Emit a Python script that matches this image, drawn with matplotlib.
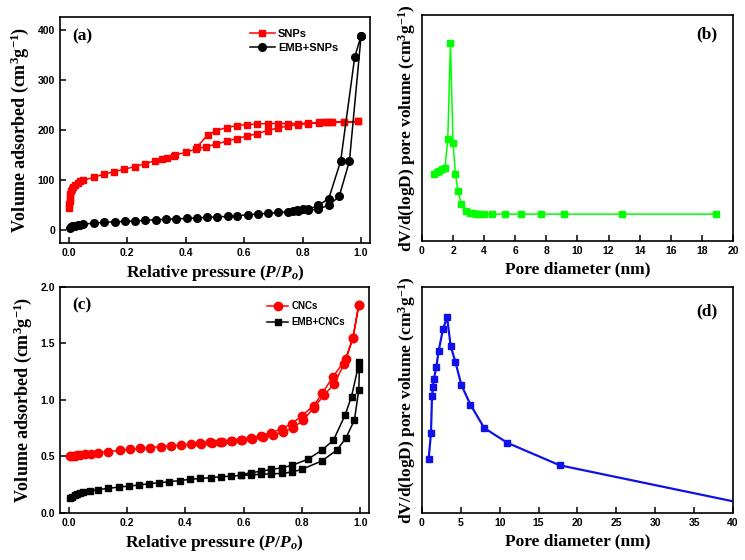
import numpy as np
import matplotlib
matplotlib.use("Agg")
import matplotlib.pyplot as plt

plt.rcParams['mathtext.fontset'] = 'custom'
plt.rcParams['mathtext.rm'] = 'Liberation Serif:bold'
plt.rcParams['mathtext.bf'] = 'Liberation Serif:bold'
plt.rcParams['mathtext.it'] = 'Liberation Serif:bold:italic'

# ---- (a) N2 isotherms, SNPs / EMB+SNPs
snp_ads_x = [0.001, 0.002, 0.003, 0.004, 0.006, 0.008, 0.01, 0.015, 0.02, 0.03, 0.04, 0.05,
             0.085, 0.12, 0.155, 0.19, 0.225, 0.26, 0.295, 0.32, 0.335, 0.36, 0.365, 0.40,
             0.435, 0.47, 0.505, 0.54, 0.575, 0.61, 0.645, 0.68, 0.715, 0.75, 0.785, 0.82,
             0.855, 0.87, 0.885, 0.9, 0.94, 0.99]
snp_ads_y = [45, 52, 58, 65, 72, 78, 82, 87, 91, 95, 98, 100,
             106, 112, 117, 122, 127, 133, 139, 143, 145, 148, 150, 156,
             162, 167, 172, 178, 183, 188, 193, 199, 204, 208, 211, 213,
             214, 215, 215, 215, 216, 217]
snp_des_x = [0.99, 0.94, 0.9, 0.885, 0.855, 0.82, 0.785, 0.75, 0.715, 0.68, 0.645, 0.61,
             0.575, 0.54, 0.505, 0.475, 0.44]
snp_des_y = [217, 216, 215, 215, 215, 214, 213, 213, 213, 213, 212, 211,
             209, 205, 199, 190, 167]

emb_snp_ads_x = [0.003, 0.008, 0.012, 0.02, 0.03, 0.04, 0.05, 0.085, 0.12, 0.157, 0.193,
                 0.228, 0.262, 0.297, 0.333, 0.367, 0.403, 0.438, 0.473, 0.507, 0.543,
                 0.576, 0.612, 0.648, 0.682, 0.717, 0.751, 0.768, 0.785, 0.82, 0.853,
                 0.889, 0.925, 0.96, 1.0]
emb_snp_ads_y = [5, 7, 8, 9, 10, 11, 12, 15, 16, 17.5, 18, 19, 20, 21.5, 22, 23, 24, 25,
                 26, 27, 28, 29.5, 31, 33, 34, 36, 37, 38, 38, 40, 43, 50, 68, 138, 388]
emb_snp_des_x = [1.0, 0.978, 0.93, 0.889, 0.853, 0.82, 0.8, 0.78]
emb_snp_des_y = [388, 345, 138, 63, 50, 42, 42, 40]

# ---- (b) pore size distribution, SNPs
b_d = [0.79, 0.94, 1.11, 1.28, 1.48, 1.66, 1.83, 2.0, 2.15, 2.32, 2.53, 2.81, 3.07,
       3.29, 3.5, 3.72, 3.97, 4.53, 5.33, 6.4, 7.65, 9.13, 12.85, 18.93]
b_v = [0.295, 0.303, 0.31, 0.318, 0.323, 0.449, 0.874, 0.431, 0.295, 0.22, 0.161,
       0.131, 0.124, 0.121, 0.12, 0.118, 0.118, 0.118, 0.118, 0.118, 0.118, 0.118,
       0.118, 0.118]

# ---- (c) N2 isotherms, CNCs / EMB+CNCs
cnc_ads_x = [0.005, 0.012, 0.02, 0.03, 0.04, 0.055, 0.075, 0.1, 0.135, 0.175, 0.21, 0.245,
             0.28, 0.315, 0.35, 0.385, 0.42, 0.455, 0.49, 0.525, 0.56, 0.595, 0.63, 0.665,
             0.7, 0.735, 0.77, 0.805, 0.84, 0.875, 0.91, 0.945, 0.975, 0.995]
cnc_ads_y = [0.500, 0.503, 0.506, 0.509, 0.513, 0.518, 0.525, 0.533, 0.543, 0.553, 0.562,
             0.571, 0.579, 0.587, 0.594, 0.601, 0.608, 0.614, 0.620, 0.627, 0.635, 0.645,
             0.657, 0.672, 0.69, 0.715, 0.755, 0.82, 0.93, 1.04, 1.14, 1.32, 1.55, 1.84]
cnc_des_x = [0.995, 0.975, 0.95, 0.905, 0.87, 0.84, 0.80, 0.765, 0.73, 0.695, 0.66, 0.625,
             0.59, 0.555, 0.52, 0.485, 0.45]
cnc_des_y = [1.84, 1.55, 1.36, 1.2, 1.06, 0.95, 0.86, 0.79, 0.745, 0.71, 0.685, 0.665,
             0.65, 0.64, 0.632, 0.625, 0.618]

emb_cnc_ads_x = [0.005, 0.012, 0.02, 0.03, 0.04, 0.05, 0.072, 0.1, 0.135, 0.172, 0.206,
                 0.24, 0.274, 0.308, 0.345, 0.381, 0.415, 0.449, 0.487, 0.521, 0.555,
                 0.59, 0.625, 0.66, 0.695, 0.73, 0.766, 0.80, 0.868, 0.919, 0.95, 0.98,
                 0.995, 0.997]
emb_cnc_ads_y = [0.13, 0.145, 0.158, 0.168, 0.176, 0.182, 0.193, 0.207, 0.217, 0.229,
                 0.238, 0.247, 0.258, 0.267, 0.276, 0.287, 0.297, 0.305, 0.312, 0.32,
                 0.326, 0.332, 0.337, 0.342, 0.346, 0.35, 0.362, 0.386, 0.46, 0.555,
                 0.659, 0.822, 1.09, 1.27]
emb_cnc_des_x = [0.997, 0.97, 0.948, 0.908, 0.868, 0.82, 0.766, 0.731, 0.695, 0.66,
                 0.625, 0.59]
emb_cnc_des_y = [1.34, 1.03, 0.866, 0.644, 0.555, 0.475, 0.421, 0.4, 0.385, 0.37,
                 0.356, 0.338]

# ---- (d) pore size distribution, CNCs
d_d = [0.86, 1.16, 1.29, 1.42, 1.55, 1.85, 2.15, 2.71, 3.23, 3.7, 4.3, 5.08, 6.24,
       8.0, 11.0, 17.72, 44.0]
d_v = [0.239, 0.354, 0.516, 0.556, 0.594, 0.646, 0.718, 0.814, 0.866, 0.737, 0.668,
       0.565, 0.479, 0.376, 0.31, 0.211, 0.023]

serif = 'Liberation Serif'
sans = 'Liberation Sans'
xlab_fs = 12.5
ylab_fs = 13
tick_fs = 7.5

fig = plt.figure(figsize=(7.45, 5.6), dpi=100)
ax_a = fig.add_axes([0.0805, 0.566, 0.416, 0.4036])
ax_b = fig.add_axes([0.5664, 0.570, 0.4174, 0.4036])
ax_c = fig.add_axes([0.0805, 0.084, 0.4148, 0.4036])
ax_d = fig.add_axes([0.5664, 0.084, 0.4174, 0.4036])


def style(ax):
    for sp in ax.spines.values():
        sp.set_linewidth(1.2)
    ax.tick_params(direction='in', length=4, width=1.1, labelsize=tick_fs)
    for lab in ax.get_xticklabels() + ax.get_yticklabels():
        lab.set_fontfamily(sans)
        lab.set_fontweight('bold')


# (a)
ax_a.plot(snp_ads_x + snp_des_x, snp_ads_y + snp_des_y, '-s', color='#ff0000',
          ms=5, lw=1.1, label='SNPs')
ax_a.plot(emb_snp_ads_x + emb_snp_des_x, emb_snp_ads_y + emb_snp_des_y, '-o',
          color='black', ms=5.5, lw=1.1, label='EMB+SNPs')
ax_a.set_xlim(-0.03, 1.03)
ax_a.set_ylim(-25, 425)
ax_a.set_xticks(np.arange(0, 1.01, 0.2))
ax_a.set_yticks(np.arange(0, 401, 100))
ax_a.set_xlabel(r'Relative pressure ($P/P_o$)', fontfamily=serif, fontweight='bold',
                fontsize=xlab_fs, labelpad=4)
ax_a.set_ylabel(r'Volume adsorbed (cm$^3$g$^{-1}$)', fontfamily=serif,
                fontweight='bold', fontsize=ylab_fs, labelpad=5)
ax_a.text(0.04, 0.915, '(a)', transform=ax_a.transAxes, fontfamily=serif,
          fontweight='bold', fontsize=12.5, va='center')
ax_a.legend(loc='upper right', bbox_to_anchor=(0.93, 0.99), frameon=False,
            prop={'family': sans, 'weight': 'bold', 'size': 8},
            handlelength=2.2, handletextpad=0.3, labelspacing=0.3)
style(ax_a)

# (b)
ax_b.plot(b_d, b_v, '-s', color='#00ff00', ms=5, lw=1.1)
ax_b.set_xlim(0, 20)
ax_b.set_ylim(0, 1.0)
ax_b.set_xticks(np.arange(0, 21, 2))
ax_b.set_yticks([])
ax_b.set_xlabel('Pore diameter (nm)', fontfamily=serif, fontweight='bold',
                fontsize=xlab_fs, labelpad=4)
ax_b.set_ylabel(r'dV/d(logD) pore volume (cm$^3$g$^{-1}$)', fontfamily=serif,
                fontweight='bold', fontsize=ylab_fs - 0.5, labelpad=3)
ax_b.text(0.915, 0.915, '(b)', transform=ax_b.transAxes, fontfamily=serif,
          fontweight='bold', fontsize=12.5, va='center', ha='center')
style(ax_b)

# (c)
ax_c.plot(cnc_ads_x + cnc_des_x, cnc_ads_y + cnc_des_y, '-o', color='#ff0000',
          ms=6, lw=1.1, label='CNCs')
ax_c.plot(emb_cnc_ads_x + emb_cnc_des_x, emb_cnc_ads_y + emb_cnc_des_y, '-s',
          color='black', ms=5, lw=1.1, label='EMB+CNCs')
ax_c.set_xlim(-0.03, 1.03)
ax_c.set_ylim(0, 2.0)
ax_c.set_xticks(np.arange(0, 1.01, 0.2))
ax_c.set_yticks(np.arange(0, 2.01, 0.5))
ax_c.set_xlabel(r'Relative pressure ($P/P_o$)', fontfamily=serif, fontweight='bold',
                fontsize=xlab_fs, labelpad=4)
ax_c.set_ylabel(r'Volume adsorbed (cm$^3$g$^{-1}$)', fontfamily=serif,
                fontweight='bold', fontsize=ylab_fs, labelpad=5)
ax_c.text(0.04, 0.92, '(c)', transform=ax_c.transAxes, fontfamily=serif,
          fontweight='bold', fontsize=12.5, va='center')
ax_c.legend(loc='upper right', bbox_to_anchor=(0.95, 0.975), frameon=False,
            prop={'family': sans, 'weight': 'bold', 'size': 7},
            handlelength=2.2, handletextpad=0.3, labelspacing=0.6)
style(ax_c)

# (d)
ax_d.plot(d_d, d_v, '-s', color='#1010e8', ms=4.5, lw=1.6)
ax_d.set_xlim(0, 40)
ax_d.set_ylim(0, 1.0)
ax_d.set_xticks(np.arange(0, 41, 5))
ax_d.set_yticks([])
ax_d.set_xlabel('Pore diameter (nm)', fontfamily=serif, fontweight='bold',
                fontsize=xlab_fs, labelpad=4)
ax_d.set_ylabel(r'dV/d(logD) pore volume (cm$^3$g$^{-1}$)', fontfamily=serif,
                fontweight='bold', fontsize=ylab_fs - 0.5, labelpad=3)
ax_d.text(0.915, 0.89, '(d)', transform=ax_d.transAxes, fontfamily=serif,
          fontweight='bold', fontsize=12.5, va='center', ha='center')
style(ax_d)

fig.savefig('out.png', dpi=100)
